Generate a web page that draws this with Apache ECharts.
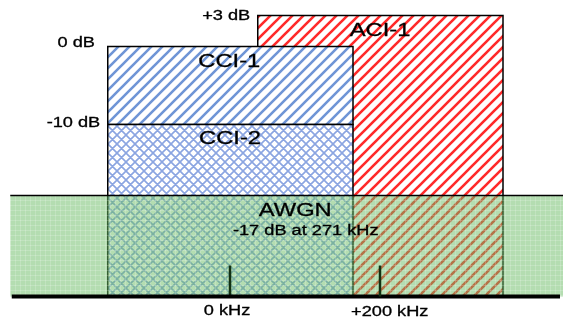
<!DOCTYPE html>
<html>
<head>
<meta charset="utf-8">
<script src="https://cdn.jsdelivr.net/npm/echarts@6/dist/echarts.min.js"></script>
<style>
  html, body { margin: 0; padding: 0; background: #fff; }
  #main { width: 563px; height: 320px; }
</style>
</head>
<body>
<div id="main"></div>
<script>
// boxes of the interference diagram (x in kHz, y in drawing level, baseline = 0)
const boxNames  = ['ACI-1', 'CCI-1', 'CCI-2', 'AWGN'];
const boxFrom   = [37, -163, -163, -293];
const boxTo     = [364, 164, 164, 444];
const boxTop    = [281, 250, 172, 101];
const boxBottom = [0, 172, 0, 0];

// frequency ticks on the baseline
const tickKHz    = [0, 200];
const tickHeight = [31, 31];

// labels
const labelText = ['CCI-1', 'ACI-1', 'CCI-2', 'AWGN', '-17 dB at 271 kHz',
                   '+3 dB', '0 dB', '-10 dB', '0 kHz', '+200 kHz'];
const labelX    = [-1, 200, 0, 87, 101, 27, -180, -173, -4, 213];
const labelY    = [235, 266, 158, 86, 65, 280, 253, 173, -15, -16];
const labelSize = [19, 19, 19, 19, 14, 14, 14, 14, 14, 14];
const labelAlign = ['center', 'center', 'center', 'center', 'center',
                    'right', 'right', 'right', 'center', 'center'];

// hatch pattern on a small tile
function hatch(color, P, w, dirs, bg) {
  const c = document.createElement('canvas')
  c.width = c.height = P
  const g = c.getContext('2d')
  if (bg) { g.fillStyle = bg; g.fillRect(0, 0, P, P) }
  g.strokeStyle = color
  g.lineWidth = w
  g.beginPath()
  if (dirs.indexOf('/') >= 0) {
    for (const n of [0, 1, 2]) {
      g.moveTo(n * P - 2 * P, 2 * P)
      g.lineTo(n * P + 2 * P, -2 * P)
    }
  }
  if (dirs.indexOf('\\') >= 0) {
    for (const n of [-1, 0, 1]) {
      g.moveTo(n * P - 2 * P, -2 * P)
      g.lineTo(n * P + 2 * P, 2 * P)
    }
  }
  g.stroke()
  return { image: c, repeat: 'repeat' }
}

function noiseTile() {
  const c = document.createElement('canvas')
  c.width = c.height = 5
  const g = c.getContext('2d')
  g.fillStyle = 'rgba(105,188,100,0.5)'
  g.fillRect(0, 0, 5, 5)
  g.fillStyle = 'rgba(255,255,255,0.18)'
  g.fillRect(0, 0, 5, 1)
  g.fillRect(0, 0, 1, 5)
  return { image: c, repeat: 'repeat' }
}

const fills = [
  hatch('#ff2a2a', 11, 2.6, '/', '#fff'),
  hatch('#6f95d6', 11, 2.6, '/', '#fff'),
  hatch('rgba(100,135,215,0.75)', 9, 1.6, '/\\', '#fff'),
  noiseTile()
]

const myChart = echarts.init(document.getElementById('main'))

const option = {
  animation: false,
  backgroundColor: '#fff',
  grid: { left: 0, right: 0, top: 0, bottom: 0 },
  xAxis: { type: 'value', min: -306.67, max: 444, show: false },
  yAxis: { type: 'value', min: -23.5, max: 296.5, show: false },
  series: [{
    type: 'custom',
    silent: true,
    data: boxNames.map((n, i) => [boxFrom[i], boxTop[i], boxTo[i], boxBottom[i]]),
    encode: { x: [0, 2], y: [1, 3] },
    renderItem(params, api) {
      const i = params.dataIndex
      const p0 = api.coord([boxFrom[i], boxTop[i]])
      const p1 = api.coord([boxTo[i], boxBottom[i]])
      const shape = { x: p0[0], y: p0[1], width: p1[0] - p0[0], height: p1[1] - p0[1] }
      if (boxNames[i] === 'AWGN') {
        return {
          type: 'group',
          children: [
            { type: 'rect', shape: shape, style: { fill: fills[i] } },
            { type: 'line', shape: { x1: p0[0], y1: p0[1], x2: p1[0], y2: p0[1] },
              style: { stroke: '#000', lineWidth: 1.5 } }
          ]
        }
      }
      return { type: 'rect', shape: shape, style: { fill: fills[i], stroke: '#000', lineWidth: 1.5 } }
    }
  }, {
    // ticks + baseline
    type: 'custom',
    silent: true,
    data: tickKHz.map((k, i) => [k, tickHeight[i]]),
    renderItem(params, api) {
      const i = params.dataIndex
      const a = api.coord([tickKHz[i], 0])
      const b = api.coord([tickKHz[i], tickHeight[i]])
      const children = [{ type: 'line', shape: { x1: a[0], y1: a[1], x2: b[0], y2: b[1] },
        style: { stroke: '#123012', lineWidth: 2.5 } }]
      if (i === 0) {
        const l = api.coord([-291, 0])
        const r = api.coord([440, 0])
        children.push({ type: 'line', shape: { x1: l[0], y1: l[1], x2: r[0], y2: r[1] },
          style: { stroke: '#000', lineWidth: 4 } })
      }
      return { type: 'group', children: children }
    }
  }, {
    type: 'custom',
    silent: true,
    data: labelText.map((t, i) => [labelX[i], labelY[i]]),
    renderItem(params, api) {
      const i = params.dataIndex
      const p = api.coord([labelX[i], labelY[i]])
      return {
        type: 'text',
        x: p[0], y: p[1],
        scaleX: labelSize[i] > 16 ? 1.25 : 1.3,
        style: {
          text: labelText[i],
          fontSize: labelSize[i],
          fontFamily: 'Liberation Sans, Arial, sans-serif',
          fill: '#000',
          stroke: '#000',
          lineWidth: 0.3,
          align: labelAlign[i],
          verticalAlign: 'middle'
        }
      }
    }
  }]
}

myChart.setOption(option)
</script>
</body>
</html>
